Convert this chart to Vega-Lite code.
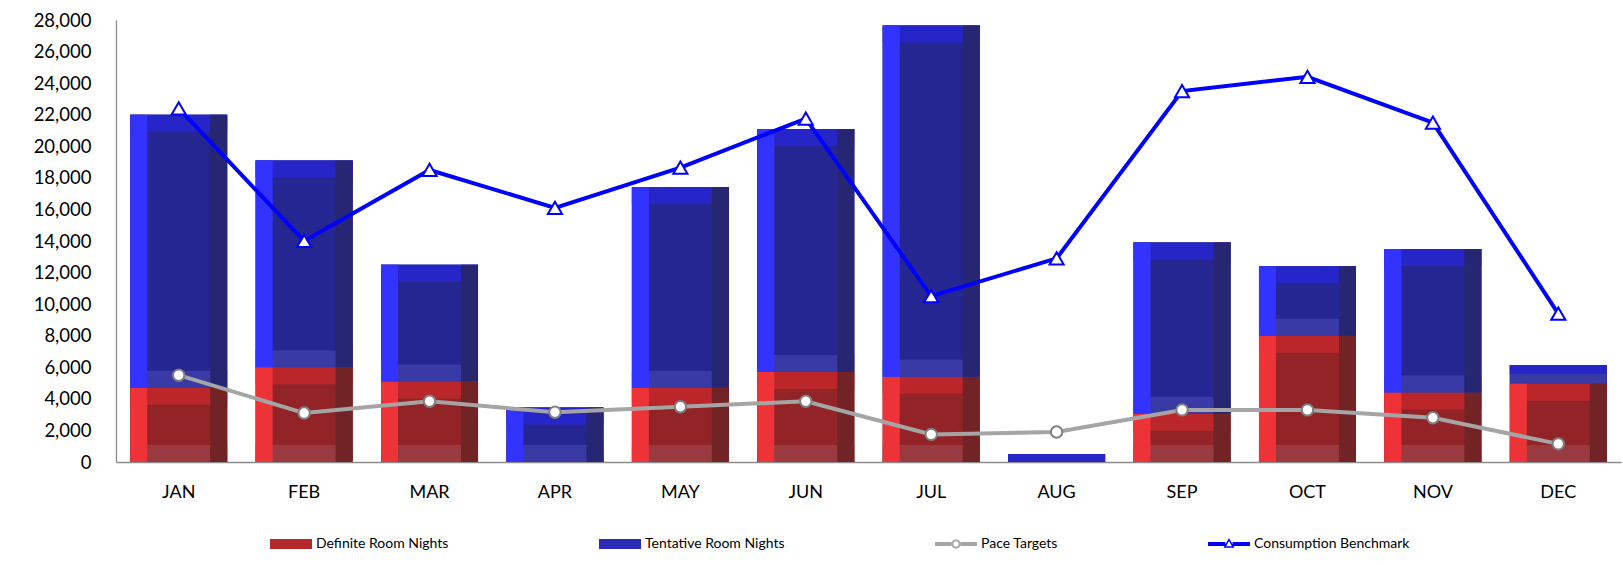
{
  "$schema": "https://vega.github.io/schema/vega-lite/v6.json",
  "width": 1505,
  "height": 442,
  "autosize": "none",
  "padding": {"left": 116, "top": 20, "right": 2, "bottom": 103},
  "background": "#FFFFFF",
  "config": {
    "view": {"stroke": null},
    "font": "Lato",
    "axis": {"grid": false, "ticks": false, "domainColor": "#8C8C8C", "domainWidth": 1.3, "labelFont": "Lato", "labelFontSize": 18, "labelColor": "#000000", "labelOverlap": false}
  },
  "resolve": {"axis": {"y": "independent"}},
  "data": {
    "values": [
      {"month": "JAN", "series": "Definite Room Nights", "value": 4700},
      {"month": "FEB", "series": "Definite Room Nights", "value": 6000},
      {"month": "MAR", "series": "Definite Room Nights", "value": 5100},
      {"month": "APR", "series": "Definite Room Nights", "value": 0},
      {"month": "MAY", "series": "Definite Room Nights", "value": 4700},
      {"month": "JUN", "series": "Definite Room Nights", "value": 5700},
      {"month": "JUL", "series": "Definite Room Nights", "value": 5400},
      {"month": "AUG", "series": "Definite Room Nights", "value": 0},
      {"month": "SEP", "series": "Definite Room Nights", "value": 3050},
      {"month": "OCT", "series": "Definite Room Nights", "value": 8000},
      {"month": "NOV", "series": "Definite Room Nights", "value": 4400},
      {"month": "DEC", "series": "Definite Room Nights", "value": 4950},
      {"month": "JAN", "series": "Tentative Room Nights", "value": 17300},
      {"month": "FEB", "series": "Tentative Room Nights", "value": 13100},
      {"month": "MAR", "series": "Tentative Room Nights", "value": 7400},
      {"month": "APR", "series": "Tentative Room Nights", "value": 3450},
      {"month": "MAY", "series": "Tentative Room Nights", "value": 12700},
      {"month": "JUN", "series": "Tentative Room Nights", "value": 15400},
      {"month": "JUL", "series": "Tentative Room Nights", "value": 22250},
      {"month": "AUG", "series": "Tentative Room Nights", "value": 500},
      {"month": "SEP", "series": "Tentative Room Nights", "value": 10850},
      {"month": "OCT", "series": "Tentative Room Nights", "value": 4400},
      {"month": "NOV", "series": "Tentative Room Nights", "value": 9100},
      {"month": "DEC", "series": "Tentative Room Nights", "value": 1200},
      {"month": "JAN", "series": "Pace Targets", "value": 5500},
      {"month": "FEB", "series": "Pace Targets", "value": 3100},
      {"month": "MAR", "series": "Pace Targets", "value": 3850},
      {"month": "APR", "series": "Pace Targets", "value": 3150},
      {"month": "MAY", "series": "Pace Targets", "value": 3500},
      {"month": "JUN", "series": "Pace Targets", "value": 3850},
      {"month": "JUL", "series": "Pace Targets", "value": 1750},
      {"month": "AUG", "series": "Pace Targets", "value": 1900},
      {"month": "SEP", "series": "Pace Targets", "value": 3300},
      {"month": "OCT", "series": "Pace Targets", "value": 3300},
      {"month": "NOV", "series": "Pace Targets", "value": 2800},
      {"month": "DEC", "series": "Pace Targets", "value": 1150},
      {"month": "JAN", "series": "Consumption Benchmark", "value": 22400},
      {"month": "FEB", "series": "Consumption Benchmark", "value": 14000},
      {"month": "MAR", "series": "Consumption Benchmark", "value": 18500},
      {"month": "APR", "series": "Consumption Benchmark", "value": 16100},
      {"month": "MAY", "series": "Consumption Benchmark", "value": 18650},
      {"month": "JUN", "series": "Consumption Benchmark", "value": 21750},
      {"month": "JUL", "series": "Consumption Benchmark", "value": 10500},
      {"month": "AUG", "series": "Consumption Benchmark", "value": 12900},
      {"month": "SEP", "series": "Consumption Benchmark", "value": 23500},
      {"month": "OCT", "series": "Consumption Benchmark", "value": 24400},
      {"month": "NOV", "series": "Consumption Benchmark", "value": 21500},
      {"month": "DEC", "series": "Consumption Benchmark", "value": 9400}
    ]
  },
  "encoding": {
    "x": {
      "field": "month", "type": "nominal", "title": null,
      "sort": ["JAN", "FEB", "MAR", "APR", "MAY", "JUN", "JUL", "AUG", "SEP", "OCT", "NOV", "DEC"],
      "scale": {"paddingInner": 0.227, "paddingOuter": 0.1135},
      "axis": {"labelAngle": 0, "labelPadding": 21, "ticks": false, "labelFontSize": 18}
    }
  },
  "layer": [
    {
      "transform": [
        {"filter": "datum.series === 'Definite Room Nights' || datum.series === 'Tentative Room Nights'"},
        {"stack": "value", "groupby": ["month"], "as": ["v0", "v1"], "sort": [{"field": "series", "order": "ascending"}]}
      ],
      "resolve": {"axis": {"y": "independent"}},
      "layer": [
        {
          "mark": {"type": "bar", "clip": true},
          "encoding": {
            "y": {"field": "v1", "type": "quantitative", "title": null,
              "scale": {"domain": [0, 28000], "nice": false},
              "axis": {"values": [0, 2000, 4000, 6000, 8000, 10000, 12000, 14000, 16000, 18000, 20000, 22000, 24000, 26000, 28000], "format": ",d", "labelPadding": 25, "ticks": false, "labelFontSize": 18.5, "labelOverlap": false, "labelFont": "Lato"}},
            "y2": {"field": "v0"},
            "color": {
              "field": "series", "type": "nominal",
              "scale": {"domain": ["Definite Room Nights", "Tentative Room Nights", "Pace Targets", "Consumption Benchmark"], "range": ["#B5282C", "#2B2BB8", "#A5A5A5", "#0000FF"]},
              "legend": {
                "title": null, "orient": "none", "legendX": 154, "legendY": 503,
                "direction": "horizontal", "columns": 4, "columnPadding": 150,
                "symbolType": "M-1,-0.24H1V0.24H-1Z", "symbolSize": 1764, "symbolStrokeWidth": 0, "symbolOpacity": 1,
                "labelFont": "Lato", "labelFontSize": 14, "labelColor": "#000000", "labelOffset": 4, "labelLimit": 300,
                "encode": {
                  "symbols": {
                    "update": {
                      "shape": {"signal": "datum.value === 'Pace Targets' ? 'M-1,-0.09H-0.22V0.09H-1Z M0.22,-0.09H1V0.09H0.22Z M0.22,0A0.22,0.22 0 1,1 -0.22,0A0.22,0.22 0 1,1 0.22,0Z M0.13,0A0.13,0.13 0 1,0 -0.13,0A0.13,0.13 0 1,0 0.13,0Z' : datum.value === 'Consumption Benchmark' ? 'M-1,-0.09H-0.17V0.09H-1Z M0.17,-0.09H1V0.09H0.17Z M0,-0.29L0.26,0.18L-0.26,0.18Z M0,-0.14L-0.14,0.11L0.14,0.11Z' : 'M-1,-0.24H1V0.24H-1Z'"}
                    }
                  }
                }
              }
            }
          }
        },
        {
          "mark": {"type": "bar", "clip": true},
          "encoding": {
            "y": {"field": "v1", "type": "quantitative", "title": null, "axis": null},
            "y2": {"field": "v0"},
            "color": {"condition": {"test": "datum.series === 'Tentative Room Nights'", "value": "#262693"}, "value": "#922427"}
          }
        },
        {
          "transform": [{"filter": "datum.v1 - datum.v0 > 0 && datum.v1 - datum.v0 < 2200"}],
          "mark": {"type": "bar", "clip": true},
          "encoding": {
            "y": {"field": "v1", "type": "quantitative", "title": null, "axis": null},
            "y2": {"field": "v0"},
            "color": {"condition": {"test": "datum.series === 'Tentative Room Nights'", "value": "#3A3AA6"}, "value": "#983A40"}
          }
        },
        {
          "transform": [{"filter": "datum.v1 - datum.v0 > 0 && datum.v1 - datum.v0 < 2200"}],
          "mark": {"type": "bar", "clip": true, "y2Offset": 9},
          "encoding": {
            "y": {"field": "v1", "type": "quantitative", "title": null, "axis": null},
            "y2": {"field": "v1"},
            "color": {"condition": {"test": "datum.series === 'Tentative Room Nights'", "value": "#2626C8"}, "value": "#BA2629"}
          }
        },
        {
          "transform": [{"filter": "datum.v1 - datum.v0 >= 2200"}],
          "mark": {"type": "bar", "clip": true, "y2Offset": 17},
          "encoding": {
            "y": {"field": "v1", "type": "quantitative", "title": null, "axis": null},
            "y2": {"field": "v1"},
            "color": {"condition": {"test": "datum.series === 'Tentative Room Nights'", "value": "#2626C8"}, "value": "#BA2629"}
          }
        },
        {
          "transform": [{"filter": "datum.v1 - datum.v0 >= 2200"}],
          "mark": {"type": "bar", "clip": true, "yOffset": -17},
          "encoding": {
            "y": {"field": "v0", "type": "quantitative", "title": null, "axis": null},
            "y2": {"field": "v0"},
            "color": {"condition": {"test": "datum.series === 'Tentative Room Nights'", "value": "#3A3AA6"}, "value": "#983A40"}
          }
        },
        {
          "transform": [{"filter": "datum.v1 - datum.v0 >= 2200"}],
          "mark": {"type": "bar", "clip": true, "width": 17, "xOffset": -40},
          "encoding": {
            "y": {"field": "v1", "type": "quantitative", "title": null, "axis": null},
            "y2": {"field": "v0"},
            "color": {"condition": {"test": "datum.series === 'Tentative Room Nights'", "value": "#3333FF"}, "value": "#EE3338"}
          }
        },
        {
          "transform": [{"filter": "datum.v1 - datum.v0 >= 2200"}],
          "mark": {"type": "bar", "clip": true, "width": 17, "xOffset": 40},
          "encoding": {
            "y": {"field": "v1", "type": "quantitative", "title": null, "axis": null},
            "y2": {"field": "v0"},
            "color": {"condition": {"test": "datum.series === 'Tentative Room Nights'", "value": "#262672"}, "value": "#722326"}
          }
        }
      ]
    },
    {
      "transform": [{"filter": "datum.series === 'Pace Targets'"}],
      "resolve": {"axis": {"y": "independent"}},
      "layer": [
        {
          "mark": {"type": "line", "strokeWidth": 4, "color": "#A5A5A5"},
          "encoding": {
            "y": {"field": "value", "type": "quantitative", "title": null, "axis": null}
          }
        },
        {
          "mark": {"type": "point", "shape": "circle", "filled": true, "fill": "#FFFFFF", "stroke": "#7F7F7F", "strokeWidth": 2, "size": 130, "opacity": 1},
          "encoding": {
            "y": {"field": "value", "type": "quantitative", "title": null, "axis": null}
          }
        }
      ]
    },
    {
      "transform": [{"filter": "datum.series === 'Consumption Benchmark'"}],
      "resolve": {"axis": {"y": "independent"}},
      "layer": [
        {
          "mark": {"type": "line", "strokeWidth": 4, "color": "#0000FF"},
          "encoding": {
            "y": {"field": "value", "type": "quantitative", "title": null, "axis": null}
          }
        },
        {
          "mark": {"type": "point", "shape": "triangle-up", "filled": true, "fill": "#FFFFFF", "stroke": "#0000FF", "strokeWidth": 2, "size": 200, "opacity": 1},
          "encoding": {
            "y": {"field": "value", "type": "quantitative", "title": null, "axis": null}
          }
        }
      ]
    }
  ]
}
